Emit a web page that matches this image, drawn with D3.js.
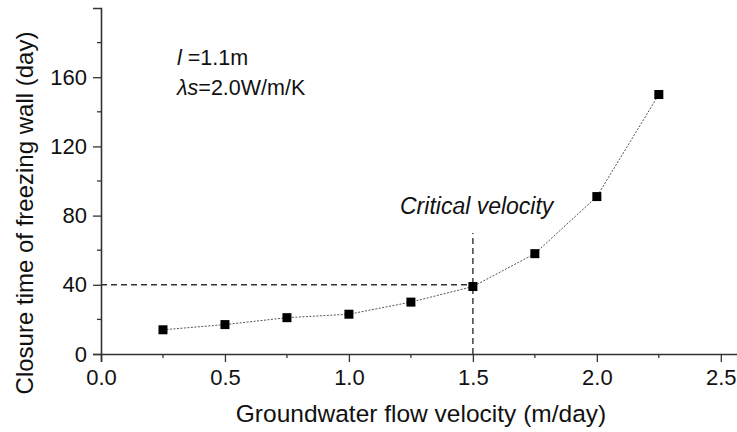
<!DOCTYPE html>
<html><head><meta charset="utf-8">
<script src="https://cdn.jsdelivr.net/npm/d3@7/dist/d3.min.js"></script>
<style>body{margin:0;background:#fff}svg{display:block;font-family:"Liberation Sans",Arial,sans-serif}</style>
</head><body>
<svg id="c" width="737" height="432"></svg>
<script>
const velocity = [0.25, 0.5, 0.75, 1.0, 1.25, 1.5, 1.75, 2.0, 2.25];
const closureDays = [14, 17, 21, 23, 30, 39, 58, 91, 150];
const xTicks = [0.0, 0.5, 1.0, 1.5, 2.0, 2.5];
const xMinor = [0.25, 0.75, 1.25, 1.75, 2.25];
const yTicks = [0, 40, 80, 120, 160];
const yMinor = [20, 60, 100, 140, 180];
const criticalV = 1.5, criticalT = 40;

const svg = d3.select("#c");
const x = d3.scaleLinear().domain([0, 2.65]).range([101, 758]);
const y = d3.scaleLinear().domain([0, 200]).range([354, 8]);
const ink = "#111";

// axes
const xAxis = svg.append("g").attr("transform", "translate(0,354)")
  .call(d3.axisBottom(x).tickValues(xTicks).tickFormat(d3.format(".1f")).tickSize(8).tickPadding(7));
const yAxis = svg.append("g").attr("transform", "translate(101,0)")
  .call(d3.axisLeft(y).tickValues(yTicks).tickFormat(d3.format("d")).tickSize(8).tickPadding(6));
[xAxis, yAxis].forEach(g => {
  g.select(".domain").attr("stroke", "#333").attr("stroke-width", 1.6);
  g.selectAll(".tick line").attr("stroke", "#333").attr("stroke-width", 1.3);
  g.selectAll(".tick text").attr("fill", ink).style("font-size", "22px").style("font-family", "Liberation Sans, Arial, sans-serif");
});
xAxis.selectAll(".minor").data(xMinor).enter().append("line")
  .attr("x1", d => x(d)).attr("x2", d => x(d)).attr("y1", 0).attr("y2", 4)
  .attr("stroke", "#333").attr("stroke-width", 1.3);
yAxis.selectAll(".minor").data(yMinor).enter().append("line")
  .attr("y1", d => y(d)).attr("y2", d => y(d)).attr("x1", 0).attr("x2", -4)
  .attr("stroke", "#333").attr("stroke-width", 1.3);

// critical dashed lines
svg.append("line").attr("x1", x(0)).attr("x2", x(criticalV)).attr("y1", y(criticalT)).attr("y2", y(criticalT))
  .attr("stroke", "#333").attr("stroke-width", 1.4).attr("stroke-dasharray", "6,4");
svg.append("line").attr("x1", x(criticalV)).attr("x2", x(criticalV)).attr("y1", y(0)).attr("y2", y(70))
  .attr("stroke", "#333").attr("stroke-width", 1.4).attr("stroke-dasharray", "6,4");

// data line
const pts = velocity.map((v, i) => [v, closureDays[i]]);
svg.append("path").datum(pts)
  .attr("d", d3.line().x(d => x(d[0])).y(d => y(d[1])))
  .attr("fill", "none").attr("stroke", "#555").attr("stroke-width", 1).attr("stroke-dasharray", "2,1.5");
svg.selectAll(".pt").data(pts).enter().append("rect")
  .attr("x", d => x(d[0]) - 4.5).attr("y", d => y(d[1]) - 4.5)
  .attr("width", 9).attr("height", 9).attr("fill", "#000");

// texts
svg.append("text").attr("x", 400).attr("y", 214).attr("font-style", "italic")
  .attr("font-size", 23).attr("fill", ink).text("Critical velocity");
const t1 = svg.append("text").attr("x", 177).attr("y", 65).attr("font-size", 21.5).attr("fill", ink);
t1.append("tspan").attr("font-style", "italic").text("l");
t1.append("tspan").text(" =1.1m");
const t2 = svg.append("text").attr("x", 177).attr("y", 95).attr("font-size", 21.5).attr("fill", ink);
t2.append("tspan").attr("font-style", "italic").text("λs");
t2.append("tspan").text("=2.0W/m/K");

svg.append("text").attr("x", 421).attr("y", 422).attr("text-anchor", "middle")
  .attr("font-size", 24.5).attr("fill", ink).text("Groundwater flow velocity (m/day)");
svg.append("text").attr("transform", "translate(33,213) rotate(-90)").attr("text-anchor", "middle")
  .attr("font-size", 24).attr("fill", ink).text("Closure time of freezing wall (day)");
</script>
</body></html>
